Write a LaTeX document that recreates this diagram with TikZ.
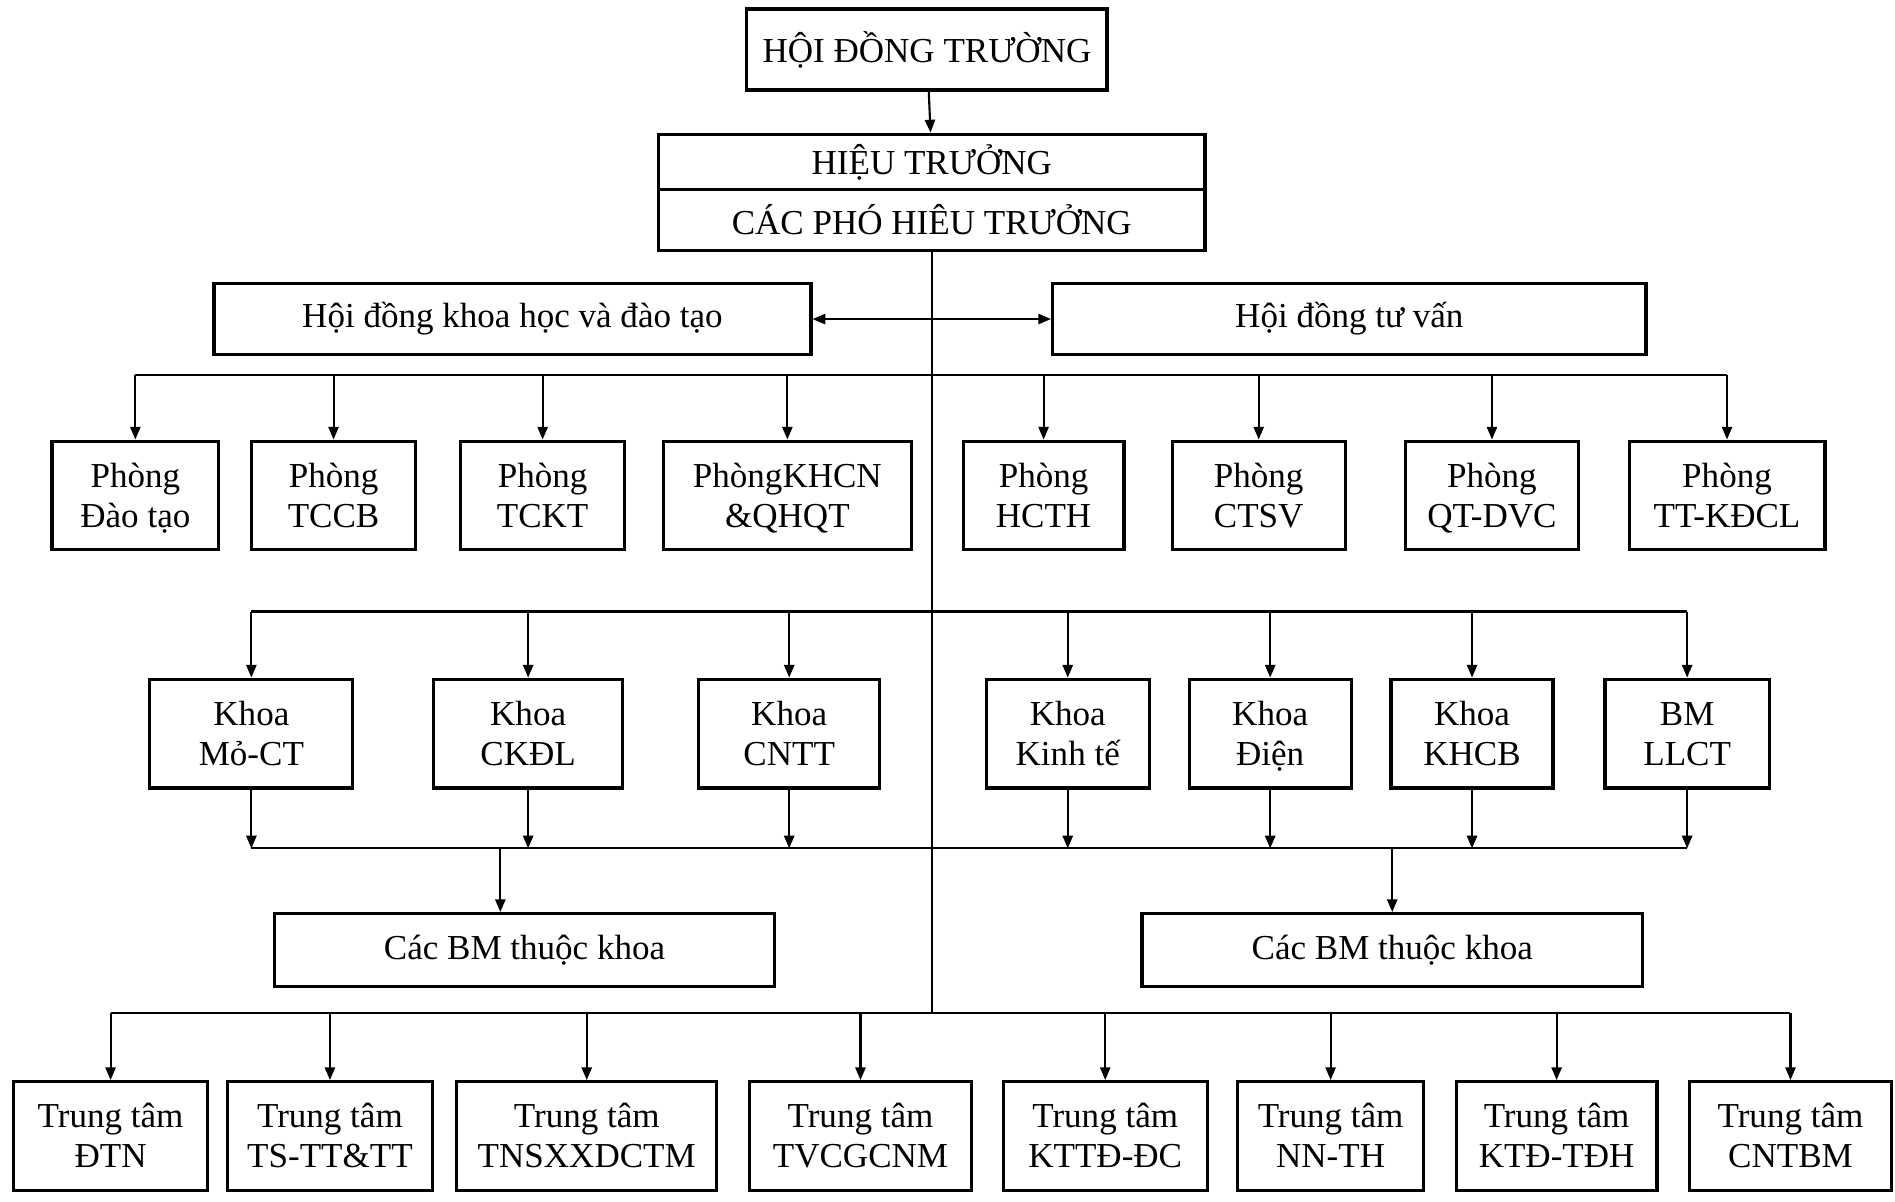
\documentclass[tikz,border=0pt]{standalone}
\usepackage{fontspec}
\setmainfont{Liberation Serif}
\usetikzlibrary{arrows.meta,positioning}

\begin{document}
\begin{tikzpicture}[
    x=0.2mm, y=-0.2mm,
    box/.style={rectangle, draw, line width=1.5pt, align=center, inner sep=1pt, font=\fontsize{16.5}{19}\selectfont},
    unit/.style={box, minimum height=18mm, text height=30pt, text depth=0pt},
    line/.style={line width=1pt},
    arr/.style={line, -{Triangle[length=6pt,width=4.8pt]}},
    arr2/.style={line, {Triangle[length=6pt,width=4.8pt]}-{Triangle[length=6pt,width=4.8pt]}}
]
\useasboundingbox (0,0) rectangle (1568,994);

% Leadership
\node[box, minimum width=59.6mm, minimum height=13.4mm] (hdt) at (767,41) {HỘI ĐỒNG TRƯỜNG};
\node[box, minimum width=90.4mm, minimum height=9.2mm] (ht) at (771,134) {HIỆU TRƯỞNG};
\node[box, minimum width=90.4mm, minimum height=10mm] (pht) at (771,182) {CÁC PHÓ HIÊU TRƯỞNG};
\draw[arr] (hdt) -- (ht);

% Councils
\node[box, minimum width=98.8mm, minimum height=11.8mm] (hdkh) at (424,264) {Hội đồng khoa học và đào tạo};
\node[box, minimum width=98.2mm, minimum height=11.8mm] (hdtv) at (1116.5,264) {Hội đồng tư vấn};
\draw[arr2] (hdkh.east) -- (hdtv.west);

% Rails
\coordinate (r1) at (771,310);
\coordinate (r2) at (771,506);
\coordinate (r3) at (771,702);
\coordinate (r4) at (771,838);
\draw[line] (pht.south) -- (r4);

% Row 1: Phong
\node[unit, minimum width=27.6mm] (ptdt) at (112,410) {Phòng\\Đào tạo};
\node[unit, minimum width=27.2mm] (ptccb) at (276,410) {Phòng\\TCCB};
\node[unit, minimum width=27.2mm] (ptckt) at (449,410) {Phòng\\TCKT};
\node[unit, minimum width=41mm] (pkhcn) at (651.5,410) {PhòngKHCN\\\&QHQT};
\node[unit, minimum width=26.6mm] (phcth) at (863.5,410) {Phòng\\HCTH};
\node[unit, minimum width=28.6mm] (pctsv) at (1041.5,410) {Phòng\\CTSV};
\node[unit, minimum width=28.6mm] (pqt) at (1234.5,410) {Phòng\\QT-DVC};
\node[unit, minimum width=32.4mm] (ptt) at (1429,410) {Phòng\\TT-KĐCL};

\draw[line] (ptdt.north |- r1) -- (ptt.north |- r1);
\foreach \n in {ptdt,ptccb,ptckt,pkhcn,phcth,pctsv,pqt,ptt}
    \draw[arr] (\n.north |- r1) -- (\n.north);

% Row 2: Khoa
\node[unit, minimum width=33.6mm] (kmo) at (208,607) {Khoa\\Mỏ-CT};
\node[unit, minimum width=31.2mm] (kck) at (437,607) {Khoa\\CKĐL};
\node[unit, minimum width=30mm] (kcntt) at (653,607) {Khoa\\CNTT};
\node[unit, minimum width=27mm] (kkt) at (883.5,607) {Khoa\\Kinh tế};
\node[unit, minimum width=26.8mm] (kdien) at (1051,607) {Khoa\\Điện};
\node[unit, minimum width=26.8mm] (kkhcb) at (1218,607) {Khoa\\KHCB};
\node[unit, minimum width=27.2mm] (bmllct) at (1396,607) {BM\\LLCT};

\draw[line] (kmo.north |- r2) -- (bmllct.north |- r2);
\draw[line] (kmo.south |- r3) -- (bmllct.south |- r3);
\foreach \n in {kmo,kck,kcntt,kkt,kdien,kkhcb,bmllct} {
    \draw[arr] (\n.north |- r2) -- (\n.north);
    \draw[arr] (\n.south) -- (\n.south |- r3);
}

% Bo mon
\node[box, minimum width=82.8mm, minimum height=12mm] (bm1) at (434,786) {Các BM thuộc khoa};
\node[box, minimum width=82.8mm, minimum height=12mm] (bm2) at (1152,786) {Các BM thuộc khoa};
\coordinate (b1) at (414,702);
\draw[arr] (b1) -- (b1 |- bm1.north);
\draw[arr] (bm2.north |- r3) -- (bm2.north);

% Row 3: Trung tam
\node[unit, minimum width=32.2mm] (tdtn) at (91.5,940) {Trung tâm\\ĐTN};
\node[unit, minimum width=34mm] (tts) at (273,940) {Trung tâm\\TS-TT\&TT};
\node[unit, minimum width=43mm] (ttns) at (485.5,940) {Trung tâm\\TNSXXDCTM};
\node[unit, minimum width=36.8mm] (ttv) at (712,940) {Trung tâm\\TVCGCNM};
\node[unit, minimum width=33.8mm] (tktt) at (914.5,940) {Trung tâm\\KTTĐ-ĐC};
\node[unit, minimum width=30.8mm] (tnn) at (1101,940) {Trung tâm\\NN-TH};
\node[unit, minimum width=33.2mm] (tktd) at (1288,940) {Trung tâm\\KTĐ-TĐH};
\node[unit, minimum width=33.4mm] (tcnt) at (1481.5,940) {Trung tâm\\CNTBM};

\draw[line] (tdtn.north |- r4) -- (tcnt.north |- r4);
\foreach \n in {tdtn,tts,ttns,ttv,tktt,tnn,tktd,tcnt}
    \draw[arr] (\n.north |- r4) -- (\n.north);
\end{tikzpicture}
\end{document}
